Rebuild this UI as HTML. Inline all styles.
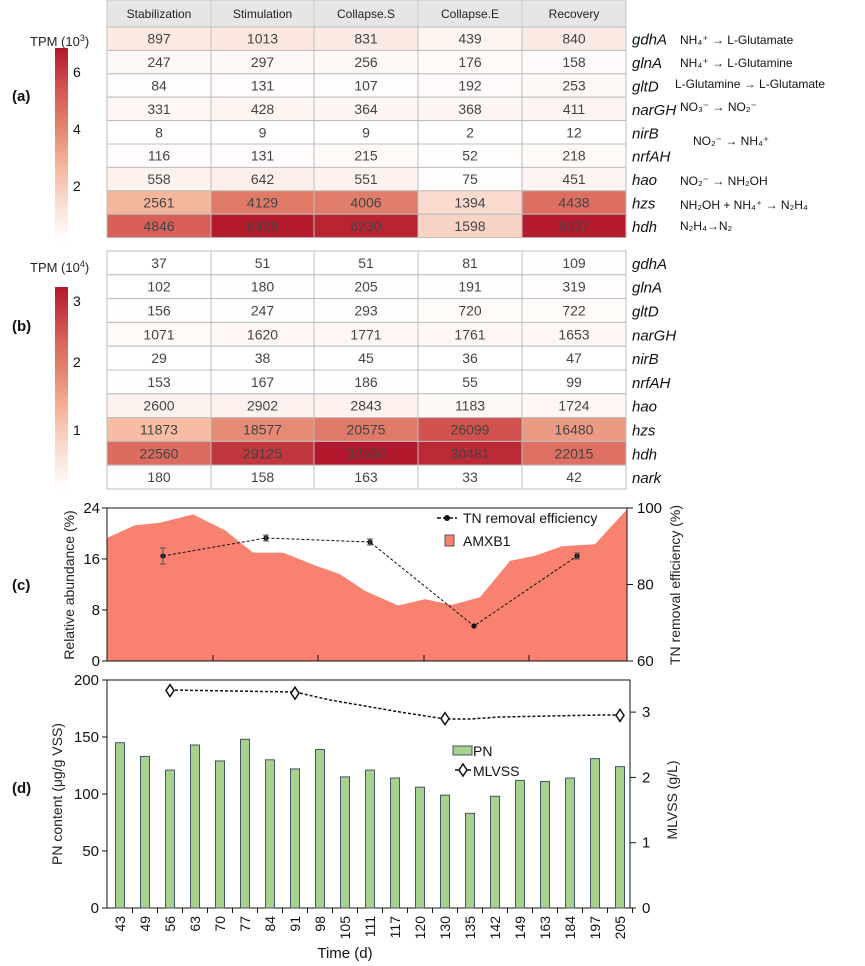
<!DOCTYPE html><html><head><meta charset="utf-8"><style>body{margin:0;background:#fff}svg{display:block;font-family:"Liberation Sans",sans-serif}</style></head><body>
<svg id="s" width="865" height="966" xmlns="http://www.w3.org/2000/svg"></svg>
<script>
const stops=[[0,[255,255,255]],[0.15,[252,232,224]],[0.4,[245,181,154]],[0.63,[224,123,104]],[0.77,[214,90,85]],[1,[178,24,43]]];
function col(t){t=Math.max(0,Math.min(1,t));for(let i=1;i<stops.length;i++){if(t<=stops[i][0]){const a=stops[i-1],b=stops[i];const f=(t-a[0])/(b[0]-a[0]);return 'rgb('+a[1].map((v,k)=>Math.round(v+(b[1][k]-v)*f)).join(',')+')';}}return 'rgb(178,24,43)';}
let h='';
const cx=[107,211,314,418,522,626];
// header
h+=`<rect x="107" y="0" width="519" height="27" fill="#e6e6e6" stroke="#c8c8c8"/>`;
['Stabilization','Stimulation','Collapse.S','Collapse.E','Recovery'].forEach((t,i)=>{h+=`<text x="${(cx[i]+cx[i+1])/2}" y="18" font-size="12" text-anchor="middle" fill="#222">${t}</text>`;if(i)h+=`<line x1="${cx[i]}" y1="0" x2="${cx[i]}" y2="27" stroke="#c8c8c8"/>`});
function table(y0,rh,data,genes,max){data.forEach((r,j)=>{const y=y0+j*rh;r.forEach((v,i)=>{h+=`<rect x="${cx[i]}" y="${y}" width="${cx[i+1]-cx[i]}" height="${rh}" fill="${col(v/max)}" stroke="#bdbdbd"/>`;h+=`<text x="${(cx[i]+cx[i+1])/2}" y="${y+rh/2+5}" font-size="14" text-anchor="middle" fill="#444">${v}</text>`});h+=`<text x="632" y="${y+rh/2+6}" font-size="15" font-style="italic" fill="#111">${genes[j]}</text>`;});}
table(27,23.4,[[897,1013,831,439,840],[247,297,256,176,158],[84,131,107,192,253],[331,428,364,368,411],[8,9,9,2,12],[116,131,215,52,218],[558,642,551,75,451],[2561,4129,4006,1394,4438],[4846,6428,6230,1598,6437]],['gdhA','glnA','gltD','narGH','nirB','nrfAH','hao','hzs','hdh'],6500);
table(251,23.8,[[37,51,51,81,109],[102,180,205,191,319],[156,247,293,720,722],[1071,1620,1771,1761,1653],[29,38,45,36,47],[153,167,186,55,99],[2600,2902,2843,1183,1724],[11873,18577,20575,26099,16480],[22560,29125,32480,30481,22015],[180,158,163,33,42]],['gdhA','glnA','gltD','narGH','nirB','nrfAH','hao','hzs','hdh','nark'],32500);
// annotations
const an=[[680,44,'NH₄⁺ → L-Glutamate'],[680,67,'NH₄⁺ → L-Glutamine'],[675,88,'L-Glutamine → L-Glutamate'],[680,111,'NO₃⁻ → NO₂⁻'],[693,145,'NO₂⁻ → NH₄⁺'],[680,185,'NO₂⁻ → NH₂OH'],[680,209,'NH₂OH + NH₄⁺ → N₂H₄'],[680,230,'N₂H₄→N₂']];
an.forEach(a=>h+=`<text x="${a[0]}" y="${a[1]}" font-size="12" fill="#111">${a[2]}</text>`);
// colorbars
h+=`<defs><linearGradient id="g" x1="0" y1="1" x2="0" y2="0">${stops.map(s=>`<stop offset="${s[0]}" stop-color="${col(s[0])}"/>`).join('')}</linearGradient></defs>`;
h+=`<rect x="55" y="48" width="13" height="195" fill="url(#g)"/>`;
h+=`<text x="30" y="46" font-size="13" fill="#222">TPM (10<tspan font-size="9" dy="-5">3</tspan><tspan dy="5">)</tspan></text>`;
[['6',77],['4',134],['2',191]].forEach(t=>h+=`<text x="73" y="${t[1]}" font-size="14" fill="#111">${t[0]}</text>`);
h+=`<text x="12" y="101" font-size="15" font-weight="bold" fill="#111">(a)</text>`;
h+=`<rect x="55" y="287" width="13" height="205" fill="url(#g)"/>`;
h+=`<text x="30" y="272" font-size="13" fill="#222">TPM (10<tspan font-size="9" dy="-5">4</tspan><tspan dy="5">)</tspan></text>`;
[['3',306],['2',367],['1',435]].forEach(t=>h+=`<text x="73" y="${t[1]}" font-size="14" fill="#111">${t[0]}</text>`);
h+=`<text x="12" y="331" font-size="15" font-weight="bold" fill="#111">(b)</text>`;
// chart c
const yc=v=>661-6.375*v;
const ar=[[107,19.3],[135,21.3],[160,21.7],[193,23],[225,20.5],[253,17],[283,17],[315,15],[340,13.6],[365,11],[398,8.7],[425,9.7],[452,8.8],[480,10],[510,15.7],[535,16.5],[562,18],[595,18.3],[627,23.8]];
h+=`<polygon points="107,661 ${ar.map(p=>p[0]+','+yc(p[1]).toFixed(1)).join(' ')} 627,661" fill="#f88170"/>`;
h+=`<rect x="107" y="508" width="520" height="153" fill="none" stroke="#111"/>`;
[213,318,424,529].forEach(x=>h+=`<line x1="${x}" y1="661" x2="${x}" y2="655" stroke="#111"/>`);
[[0,'0'],[8,'8'],[16,'16'],[24,'24']].forEach(t=>{const y=yc(t[0]);h+=`<line x1="102" y1="${y}" x2="107" y2="${y}" stroke="#111"/><text x="100" y="${y+5}" font-size="15" text-anchor="end" fill="#111">${t[1]}</text>`});
[[60,661],[80,584.5],[100,508]].forEach(t=>h+=`<line x1="627" y1="${t[1]}" x2="633" y2="${t[1]}" stroke="#111"/><text x="637" y="${t[1]+5}" font-size="15" fill="#111">${t[0]}</text>`);
const tn=[[163,556,8],[266,538,3],[370,542,3],[474,626,0],[577,556,3]];
h+=`<polyline points="${tn.map(p=>p[0]+','+p[1]).join(' ')}" fill="none" stroke="#111" stroke-dasharray="3,2"/>`;
tn.forEach(p=>{h+=`<circle cx="${p[0]}" cy="${p[1]}" r="2.6" fill="#111"/>`;if(p[2])h+=`<path d="M${p[0]} ${p[1]-p[2]}V${p[1]+p[2]}M${p[0]-3} ${p[1]-p[2]}h6M${p[0]-3} ${p[1]+p[2]}h6" stroke="#555"/>`});
h+=`<line x1="437" y1="518" x2="457" y2="518" stroke="#111" stroke-width="1.5" stroke-dasharray="4,2"/><circle cx="447" cy="518" r="3" fill="#111"/><text x="463" y="523" font-size="14" fill="#111">TN removal efficiency</text>`;
h+=`<rect x="445" y="535" width="9" height="11" fill="#f88170" stroke="#555"/><text x="463" y="546" font-size="14" fill="#111">AMXB1</text>`;
h+=`<text transform="translate(74,585) rotate(-90)" font-size="14" text-anchor="middle" fill="#222">Relative abundance (%)</text>`;
h+=`<text transform="translate(680,585) rotate(-90)" font-size="14" text-anchor="middle" fill="#222">TN removal efficiency (%)</text>`;
h+=`<text x="12" y="590" font-size="15" font-weight="bold" fill="#111">(c)</text>`;
// chart d
const yd=v=>908-1.14*v;
h+=`<rect x="107" y="680" width="523" height="228" fill="none" stroke="#111"/>`;
[0,50,100,150,200].forEach(v=>{const y=yd(v);h+=`<line x1="102" y1="${y}" x2="107" y2="${y}" stroke="#111"/><text x="99" y="${y+5}" font-size="15" text-anchor="end" fill="#111">${v}</text>`});
[0,1,2,3].forEach(v=>{const y=908-65.3*v;h+=`<line x1="630" y1="${y}" x2="636" y2="${y}" stroke="#111"/><text x="642" y="${y+5}" font-size="15" fill="#111">${v}</text>`});
const days=[43,49,56,63,70,77,84,91,98,105,111,117,120,130,135,142,149,163,184,197,205];
const pn=[145,133,121,143,129,148,130,122,139,115,121,114,106,99,83,98,112,111,114,131,124];
days.forEach((d,i)=>{const x=120+i*25;h+=`<rect x="${x-4.5}" y="${yd(pn[i])}" width="9" height="${908-yd(pn[i])}" fill="#a9d18e" stroke="#44546a"/>`;h+=`<line x1="${x+12.5}" y1="908" x2="${x+12.5}" y2="913" stroke="#111"/>`;h+=`<text transform="translate(${x+5},916) rotate(-90)" font-size="14" text-anchor="end" fill="#111">${d}</text>`});
const ml=[[170,3.33],[295,3.29],[445,2.9],[620,2.95]];
h+=`<polyline points="170,690 295,692 330,700 400,712 445,719 470,719 500,717 600,715 620,715" fill="none" stroke="#111" stroke-width="1.5" stroke-dasharray="3,2"/>`;
ml.forEach(p=>{const y=908-65.3*p[1];h+=`<path d="M${p[0]} ${y-6}L${p[0]+4} ${y}L${p[0]} ${y+6}L${p[0]-4} ${y}Z" fill="#fff" stroke="#111" stroke-width="1.5"/>`});
h+=`<rect x="453" y="746" width="19" height="9" fill="#a9d18e" stroke="#44546a"/><text x="473" y="756" font-size="14" fill="#111">PN</text>`;
h+=`<line x1="455" y1="770" x2="471" y2="770" stroke="#111" stroke-width="1.5"/><path d="M463 764L467 770L463 776L459 770Z" fill="#fff" stroke="#111" stroke-width="1.5"/><text x="473" y="776" font-size="14" fill="#111">MLVSS</text>`;
h+=`<text transform="translate(62,794) rotate(-90)" font-size="14" text-anchor="middle" fill="#222">PN content (μg/g VSS)</text>`;
h+=`<text transform="translate(677,800) rotate(-90)" font-size="14" text-anchor="middle" fill="#222">MLVSS (g/L)</text>`;
h+=`<text x="12" y="793" font-size="15" font-weight="bold" fill="#111">(d)</text>`;
h+=`<text x="345" y="958" font-size="15" text-anchor="middle" fill="#111">Time (d)</text>`;
document.getElementById('s').innerHTML=h;
</script></body></html>
